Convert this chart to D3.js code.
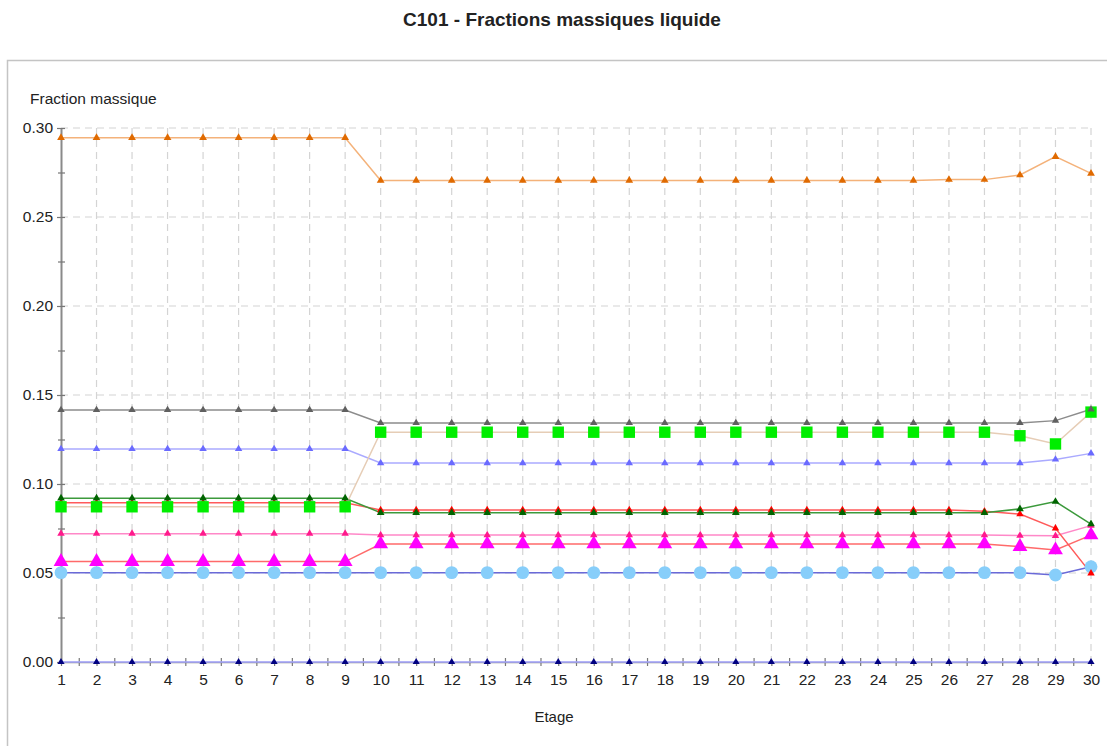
<!DOCTYPE html>
<html>
<head>
  <meta charset="utf-8">
  <title>C101 - Fractions massiques liquide</title>
  <script src="https://d3js.org/d3.v7.min.js"></script>
  <style>
body { margin: 0; background: #fff; }
text { font-family: "Liberation Sans", Arial, sans-serif; fill: #222; }
.grid line { stroke: #d4d4d4; stroke-dasharray: 7 5; stroke-width: 1.2; }
  </style>
</head>
<body>
<div id="chart"></div>
<script>
var etages = [1,2,3,4,5,6,7,8,9,10,11,12,13,14,15,16,17,18,19,20,21,22,23,24,25,26,27,28,29,30];
var yTicks = [0, 0.05, 0.10, 0.15, 0.20, 0.25, 0.30];

var orange = [0.2945,0.2945,0.2945,0.2945,0.2945,0.2945,0.2945,0.2945,0.2945,0.2705,0.2705,0.2705,0.2705,0.2705,0.2705,0.2705,0.2705,0.2705,0.2705,0.2705,0.2705,0.2705,0.2705,0.2705,0.2705,0.271,0.271,0.2736,0.2839,0.2745];
var gris = [0.1416,0.1416,0.1416,0.1416,0.1416,0.1416,0.1416,0.1416,0.1416,0.1343,0.1343,0.1343,0.1343,0.1343,0.1343,0.1343,0.1343,0.1343,0.1343,0.1343,0.1343,0.1343,0.1343,0.1343,0.1343,0.1343,0.1343,0.1343,0.1356,0.142];
var carres = [0.0872,0.0872,0.0872,0.0872,0.0872,0.0872,0.0872,0.0872,0.0872,0.1291,0.1291,0.1291,0.1291,0.1291,0.1291,0.1291,0.1291,0.1291,0.1291,0.1291,0.1291,0.1291,0.1291,0.1291,0.1291,0.1291,0.1291,0.1271,0.1225,0.1404];
var bleuClair = [0.1197,0.1197,0.1197,0.1197,0.1197,0.1197,0.1197,0.1197,0.1197,0.1118,0.1118,0.1118,0.1118,0.1118,0.1118,0.1118,0.1118,0.1118,0.1118,0.1118,0.1118,0.1118,0.1118,0.1118,0.1118,0.1118,0.1118,0.1118,0.1138,0.1172];
var vert = [0.0920,0.0920,0.0920,0.0920,0.0920,0.0920,0.0920,0.0920,0.0920,0.0839,0.0839,0.0839,0.0839,0.0839,0.0839,0.0839,0.0839,0.0839,0.0839,0.0839,0.0839,0.0839,0.0839,0.0839,0.0839,0.0839,0.0839,0.0860,0.0901,0.0775];
var rouge = [0.0895,0.0895,0.0895,0.0895,0.0895,0.0895,0.0895,0.0895,0.0895,0.0854,0.0854,0.0854,0.0854,0.0854,0.0854,0.0854,0.0854,0.0854,0.0854,0.0854,0.0854,0.0854,0.0854,0.0854,0.0854,0.0854,0.0847,0.0831,0.0751,0.0498];
var rose = [0.0721,0.0721,0.0721,0.0721,0.0721,0.0721,0.0721,0.0721,0.0721,0.0713,0.0713,0.0713,0.0713,0.0713,0.0713,0.0713,0.0713,0.0713,0.0713,0.0713,0.0713,0.0713,0.0713,0.0713,0.0713,0.0713,0.0713,0.0710,0.0709,0.0766];
var magenta = [0.0564,0.0564,0.0564,0.0564,0.0564,0.0564,0.0564,0.0564,0.0564,0.0663,0.0663,0.0663,0.0663,0.0663,0.0663,0.0663,0.0663,0.0663,0.0663,0.0663,0.0663,0.0663,0.0663,0.0663,0.0663,0.0663,0.0663,0.0648,0.0629,0.0713];
var cercles = [0.0502,0.0502,0.0502,0.0502,0.0502,0.0502,0.0502,0.0502,0.0502,0.0502,0.0502,0.0502,0.0502,0.0502,0.0502,0.0502,0.0502,0.0502,0.0502,0.0502,0.0502,0.0502,0.0502,0.0502,0.0502,0.0502,0.0502,0.0502,0.0489,0.0535];
var marine = [0,0,0,0,0,0,0,0,0,0,0,0,0,0,0,0,0,0,0,0,0,0,0,0,0,0,0,0,0,0];

// ordre de dessin : du bas vers le haut
var series = [
  {v: marine,    line: "#a4a4ff", fill: "#000080", sym: d3.symbolTriangle, size: 22},
  {v: cercles,   line: "#6a6ad8", fill: "#87cefa", sym: d3.symbolCircle,   size: 130},
  {v: magenta,   line: "#ff6a6a", fill: "#ff00ff", sym: d3.symbolTriangle, size: 95},
  {v: rose,      line: "#ff88c8", fill: "#ff1a8c", sym: d3.symbolTriangle, size: 24},
  {v: rouge,     line: "#ff5a5a", fill: "#ff0000", sym: d3.symbolTriangle, size: 24},
  {v: vert,      line: "#3c9a3c", fill: "#006400", sym: d3.symbolTriangle, size: 26},
  {v: bleuClair, line: "#aaaaff", fill: "#6a6aff", sym: d3.symbolTriangle, size: 24},
  {v: carres,    line: "#e6cdb6", fill: "#00ee00", sym: d3.symbolSquare,   size: 130},
  {v: gris,      line: "#8c8c8c", fill: "#606060", sym: d3.symbolTriangle, size: 24},
  {v: orange,    line: "#f4b27a", fill: "#e06a00", sym: d3.symbolTriangle, size: 26}
];

var w = 1107, h = 746;
var svg = d3.select("#chart").append("svg").attr("width", w).attr("height", h);

// cadre
svg.append("rect").attr("x", 7.5).attr("y", 60.5).attr("width", 1120).attr("height", 700)
  .attr("fill", "none").attr("stroke", "#c4c4c4").attr("stroke-width", 1.5);

svg.append("text").attr("x", 562).attr("y", 26).attr("text-anchor", "middle")
  .style("font-size", "19px").style("font-weight", "bold").text("C101 - Fractions massiques liquide");

var x = d3.scaleLinear().domain([1, 30]).range([61, 1091]);
var y = d3.scaleLinear().domain([0, 0.30]).range([662, 128]);

// grille
var grid = svg.append("g").attr("class", "grid");
grid.selectAll("line.h").data(yTicks.slice(1)).enter().append("line")
  .attr("x1", x(1)).attr("x2", x(30)).attr("y1", d => y(d)).attr("y2", d => y(d));
grid.selectAll("line.v").data(etages.slice(1)).enter().append("line")
  .attr("x1", d => x(d)).attr("x2", d => x(d)).attr("y1", y(0.30)).attr("y2", y(0));

// axes
var yAxis = svg.append("g").attr("transform", "translate(" + x(1) + ",0)")
  .call(d3.axisLeft(y).tickValues(yTicks).tickFormat(d3.format(".2f")).tickSizeInner(4).tickSizeOuter(0).tickPadding(4));
svg.append("g").attr("transform", "translate(" + x(1) + ",0)")
  .call(d3.axisRight(y).tickValues(d3.range(0, 0.301, 0.025)).tickFormat("").tickSizeInner(4).tickSizeOuter(0))
  .call(g => g.select(".domain").remove());
svg.append("g").attr("transform", "translate(" + x(1) + ",0)")
  .call(d3.axisLeft(y).tickValues(d3.range(0.025, 0.3, 0.05)).tickFormat("").tickSizeInner(3).tickSizeOuter(0))
  .call(g => g.select(".domain").remove());
yAxis.select(".domain").attr("stroke", "#8a8a8a").attr("stroke-width", 2);

var xAxis = svg.append("g").attr("transform", "translate(0," + y(0) + ")")
  .call(d3.axisBottom(x).tickValues(etages).tickFormat(d3.format("d")).tickSizeInner(4).tickSizeOuter(0).tickPadding(8));
xAxis.select(".domain").attr("stroke", "#8a8a8a").attr("stroke-width", 1.5);
svg.append("g").attr("transform", "translate(0," + y(0) + ")")
  .call(d3.axisTop(x).tickValues(etages.slice(1).map(d => d - 0.5)).tickFormat("").tickSizeInner(4).tickSizeOuter(0))
  .call(g => g.select(".domain").remove());
svg.append("g").attr("transform", "translate(0," + y(0) + ")")
  .call(d3.axisBottom(x).tickValues(etages.slice(1).map(d => d - 0.5)).tickFormat("").tickSizeInner(4).tickSizeOuter(0))
  .call(g => g.select(".domain").remove());
svg.selectAll(".tick line").attr("stroke", "#777").attr("stroke-width", 1.2);
svg.selectAll(".tick text").style("font-size", "15.5px").attr("fill", "#222");

svg.append("text").attr("x", 30).attr("y", 104).style("font-size", "15.5px").text("Fraction massique");
svg.append("text").attr("x", 554).attr("y", 722).attr("text-anchor", "middle").style("font-size", "15px").text("Etage");

// courbes
var line = d3.line().x((d, i) => x(etages[i])).y(d => y(d));
series.forEach(function(s) {
  svg.append("path").datum(s.v).attr("d", line)
    .attr("fill", "none").attr("stroke", s.line).attr("stroke-width", 1.5);
});
series.forEach(function(s) {
  svg.selectAll(null).data(s.v).enter().append("path")
    .attr("transform", (d, i) => "translate(" + x(etages[i]) + "," + y(d) + ")")
    .attr("d", d3.symbol().type(s.sym).size(s.size))
    .attr("fill", s.fill);
});
</script>
</body>
</html>
